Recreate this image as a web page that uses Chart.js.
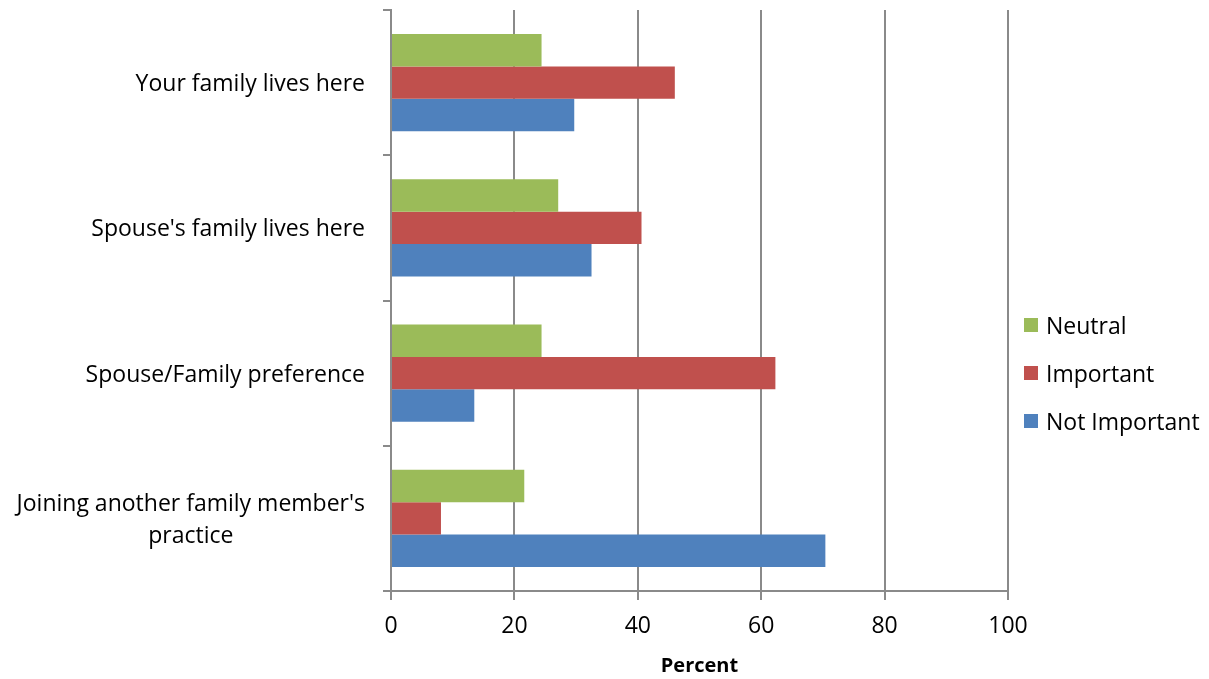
<!DOCTYPE html>
<html>
<head>
<meta charset="utf-8">
<script src="https://cdn.jsdelivr.net/npm/chart.js@4/dist/chart.umd.min.js"></script>
<style>
  html, body { margin: 0; padding: 0; background: #fff; }
</style>
</head>
<body>
<canvas id="chart" width="1209" height="679"></canvas>
<script>
// ---------------------------
// Data
// ---------------------------
const categories = [
  "Your family lives here",
  "Spouse's family lives here",
  "Spouse/Family preference",
  ["Joining another family member's", "practice"]
];
const seriesNames  = ["Neutral", "Important", "Not Important"];
const neutral      = [24.4, 27.1, 24.4, 21.6];
const important    = [46.0, 40.6, 62.3, 8.1];
const notImportant = [29.7, 32.5, 13.5, 70.4];
const xTicks       = [0, 20, 40, 60, 80, 100];

const FONT   = "'Open Sans', sans-serif";
const FSIZE  = 23;
const GRID   = "#8a8a8a";
const COLORS = ["#9bbb59", "#c0504d", "#4f81bd"];

// ---------------------------
// Category labels (multi-line block is centred, block is right aligned)
// ---------------------------
const categoryLabels = {
  id: "categoryLabels",
  afterDraw(chart) {
    const { ctx, chartArea } = chart;
    const scale = chart.scales.y;
    ctx.save();
    ctx.font = `${FSIZE}px ${FONT}`;
    ctx.fillStyle = "#000";
    ctx.textBaseline = "middle";
    ctx.textAlign = "center";
    const right = chartArea.left - 26;
    const lineH = 32;
    categories.forEach((label, i) => {
      const lines = Array.isArray(label) ? label : [label];
      const w = Math.max(...lines.map(l => ctx.measureText(l).width));
      const cy = scale.getPixelForTick(i) + 2;
      lines.forEach((line, j) => {
        ctx.fillText(line, right - w / 2, cy + (j - (lines.length - 1) / 2) * lineH);
      });
    });
    ctx.restore();
  }
};

// ---------------------------
// Legend on the right
// ---------------------------
const sideLegend = {
  id: "sideLegend",
  afterDraw(chart) {
    const { ctx, chartArea } = chart;
    const x0 = chartArea.right + 16;
    const y0 = chartArea.top + 315;
    ctx.save();
    ctx.font = `${FSIZE}px ${FONT}`;
    ctx.textBaseline = "middle";
    ctx.textAlign = "left";
    chart.data.datasets.forEach((ds, i) => {
      const cy = y0 + i * 48;
      ctx.fillStyle = ds.backgroundColor;
      ctx.fillRect(x0, cy - 7, 14, 14);
      ctx.fillStyle = "#000";
      ctx.fillText(ds.label, x0 + 22, cy + 2);
    });
    ctx.restore();
  }
};

new Chart(document.getElementById("chart"), {
  type: "bar",
  data: {
    labels: categories,
    datasets: [
      { label: seriesNames[0], data: neutral,      backgroundColor: COLORS[0] },
      { label: seriesNames[1], data: important,    backgroundColor: COLORS[1] },
      { label: seriesNames[2], data: notImportant, backgroundColor: COLORS[2] }
    ]
  },
  options: {
    indexAxis: "y",
    responsive: false,
    animation: false,
    layout: { padding: { top: 10, right: 201, bottom: 0, left: 0 } },
    datasets: { bar: { categoryPercentage: 0.67, barPercentage: 1 } },
    plugins: {
      legend: { display: false },
      tooltip: { enabled: false }
    },
    scales: {
      x: {
        min: 0,
        max: 100,
        afterBuildTicks: scale => { scale.ticks = xTicks.map(v => ({ value: v })); },
        afterFit: scale => { scale.height = 88; },
        grid: { color: GRID, lineWidth: 2, tickLength: 9, tickColor: GRID },
        border: { color: GRID, width: 2 },
        ticks: { color: "#000", padding: 13, font: { family: FONT, size: FSIZE } },
        title: {
          display: true,
          text: "Percent",
          color: "#000",
          padding: { top: 0, bottom: 1 },
          font: { family: FONT, size: 20, weight: "bold" }
        }
      },
      y: {
        afterFit: scale => { scale.width = 391; },
        grid: { offset: true, drawOnChartArea: false, tickLength: 8, tickColor: GRID, lineWidth: 2 },
        border: { color: GRID, width: 2 },
        ticks: { display: false }
      }
    }
  },
  plugins: [categoryLabels, sideLegend]
});
</script>
</body>
</html>
